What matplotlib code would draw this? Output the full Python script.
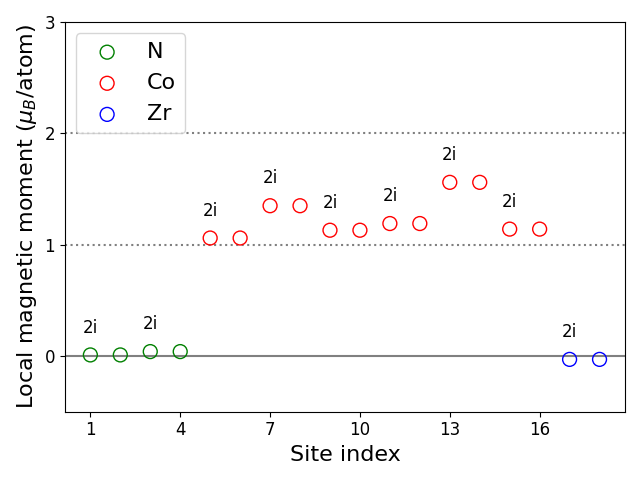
import matplotlib
matplotlib.use('Agg')
import matplotlib.pyplot as plt
import numpy as np

# site indices and moments
n_sites = [1, 2, 3, 4]
n_moments = [0.01, 0.01, 0.04, 0.04]

co_sites = [5, 6, 7, 8, 9, 10, 11, 12, 13, 14, 15, 16]
co_moments = [1.06, 1.06, 1.35, 1.35, 1.13, 1.13, 1.19, 1.19, 1.56, 1.56, 1.14, 1.14]

zr_sites = [17, 18]
zr_moments = [-0.03, -0.03]

wyckoff = '2i'

fig, ax = plt.subplots(figsize=(6.4, 4.8), dpi=100)

ax.axhline(0, color='gray', lw=1.5, zorder=1)
ax.axhline(1, color='gray', ls=':', lw=1.5, zorder=1)
ax.axhline(2, color='gray', ls=':', lw=1.5, zorder=1)

ax.scatter(n_sites, n_moments, s=100, facecolors='none', edgecolors='green', label='N', zorder=3)
ax.scatter(co_sites, co_moments, s=100, facecolors='none', edgecolors='red', label='Co', zorder=3)
ax.scatter(zr_sites, zr_moments, s=100, facecolors='none', edgecolors='blue', label='Zr', zorder=3)

# label every other site with its Wyckoff position
all_sites = n_sites + co_sites + zr_sites
all_moments = n_moments + co_moments + zr_moments
for s, m in zip(all_sites[::2], all_moments[::2]):
    ax.text(s, m + 0.2, wyckoff, ha='center', fontsize=12)

ax.set_ylim(-0.5, 3)
ax.set_yticks([0, 1, 2, 3])
ax.set_xticks([1, 4, 7, 10, 13, 16])
ax.tick_params(labelsize=12)
ax.set_xlabel('Site index', fontsize=16)
ax.set_ylabel(r'Local magnetic moment ($\mu_B$/atom)', fontsize=16)
ax.legend(fontsize=16, loc='upper left')

plt.tight_layout()
plt.savefig('out.png')
plt.close('all')
